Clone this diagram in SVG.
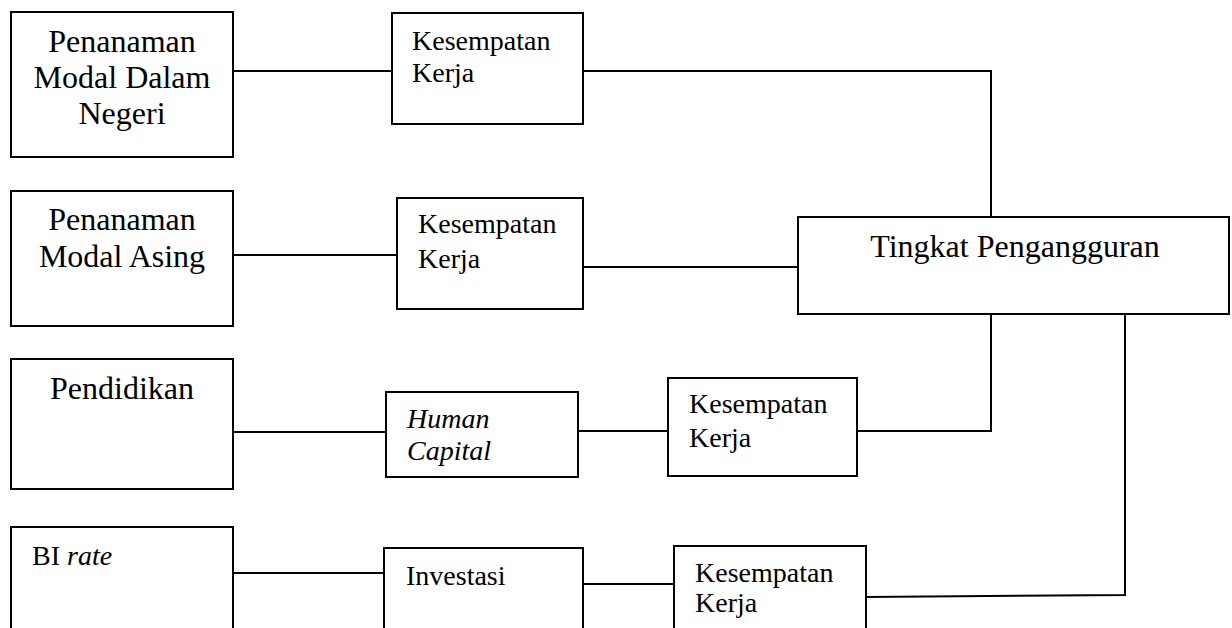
<svg xmlns="http://www.w3.org/2000/svg" width="1232" height="628" viewBox="0 0 1232 628">
<style>
.box{fill:#fff;stroke:#000;stroke-width:2}
.ln{fill:none;stroke:#000;stroke-width:2}
text{font-family:"Liberation Serif","Times New Roman",serif;fill:#000}
.big{font-size:32px}
.mid{font-size:28px}
.tp{font-size:32px}
.c{text-anchor:middle}
.it{font-style:italic}
</style>
<rect width="1232" height="628" fill="#fff"/>
<g id="connectors">
<line class="ln" x1="233" y1="71" x2="392" y2="71"/>
<polyline class="ln" points="583,71 991,71 991,217"/>
<line class="ln" x1="233" y1="255" x2="397" y2="255"/>
<line class="ln" x1="583" y1="267" x2="798" y2="267"/>
<line class="ln" x1="233" y1="432" x2="386" y2="432"/>
<line class="ln" x1="578" y1="431" x2="668" y2="431"/>
<polyline class="ln" points="857,431 991,431 991,314"/>
<line class="ln" x1="233" y1="573" x2="384" y2="573"/>
<line class="ln" x1="583" y1="584" x2="674" y2="584"/>
<polyline class="ln" points="866,597 1125,595 1125,314"/>
</g>
<g id="pmdn">
<rect class="box" x="11" y="12" width="222" height="145"/>
<text class="big c" x="122" y="52">Penanaman</text>
<text class="big c" x="122" y="88">Modal Dalam</text>
<text class="big c" x="122" y="124">Negeri</text>
</g>
<g id="kk1">
<rect class="box" x="392" y="13" width="191" height="111"/>
<text class="mid" x="412" y="50">Kesempatan</text>
<text class="mid" x="412" y="82">Kerja</text>
</g>
<g id="pma">
<rect class="box" x="11" y="191" width="222" height="135"/>
<text class="big c" x="122" y="230">Penanaman</text>
<text class="big c" x="122" y="267">Modal Asing</text>
</g>
<g id="kk2">
<rect class="box" x="397" y="198" width="186" height="111"/>
<text class="mid" x="418" y="233">Kesempatan</text>
<text class="mid" x="418" y="268">Kerja</text>
</g>
<g id="tp">
<rect class="box" x="798" y="217" width="431" height="97"/>
<text class="tp c" x="1015" y="257">Tingkat Pengangguran</text>
</g>
<g id="pendidikan">
<rect class="box" x="11" y="359" width="222" height="130"/>
<text class="big c" x="122" y="399">Pendidikan</text>
</g>
<g id="hc">
<rect class="box" x="386" y="392" width="192" height="85"/>
<text class="mid it" x="407" y="428">Human</text>
<text class="mid it" x="407" y="460">Capital</text>
</g>
<g id="kk3">
<rect class="box" x="668" y="378" width="189" height="98"/>
<text class="mid" x="689" y="413">Kesempatan</text>
<text class="mid" x="689" y="447">Kerja</text>
</g>
<g id="birate">
<rect class="box" x="11" y="527" width="222" height="130"/>
<text class="mid" x="32" y="565">BI <tspan class="it">rate</tspan></text>
</g>
<g id="investasi">
<rect class="box" x="384" y="548" width="199" height="110"/>
<text class="mid" x="406" y="585">Investasi</text>
</g>
<g id="kk4">
<rect class="box" x="674" y="546" width="192" height="110"/>
<text class="mid" x="695" y="582">Kesempatan</text>
<text class="mid" x="695" y="612">Kerja</text>
</g>
</svg>
